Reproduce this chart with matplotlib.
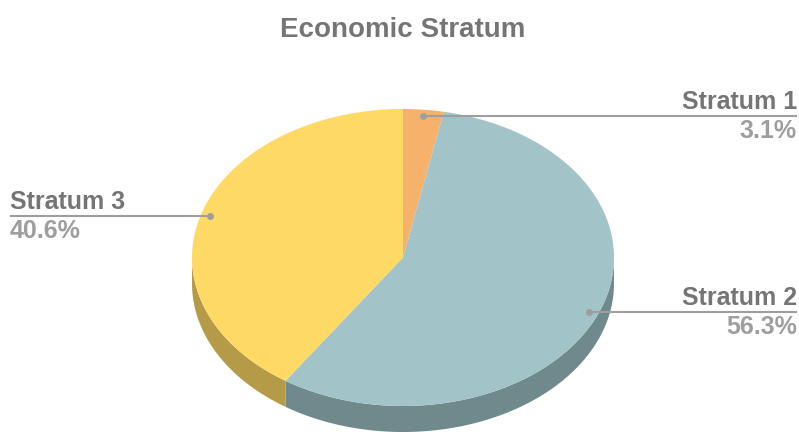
import numpy as np
import matplotlib.pyplot as plt
from matplotlib.patches import Polygon

plt.rcParams['font.family'] = ['Liberation Sans', 'DejaVu Sans']

# data
labels = ['Stratum 1', 'Stratum 2', 'Stratum 3']
shares = [3.1, 56.3, 40.6]
top_colors = ['#F6B26B', '#A2C4C9', '#FFD966']
side_colors = ['#B7854F', '#6F898C', '#B59A48']

# pie geometry (pixels)
cx, cy = 403, 258.5
rx, ry = 211, 148.5
depth = 26

fig = plt.figure(figsize=(7.99, 4.35), dpi=100)
ax = fig.add_axes([0, 0, 1, 1])
ax.set_xlim(0, 799)
ax.set_ylim(435, 0)
ax.axis('off')


def pt(theta, r=1.0, dy=0.0):
    # theta in degrees clockwise from 12 o'clock
    t = np.radians(theta)
    return cx + rx * r * np.sin(t), cy - ry * r * np.cos(t) + dy


fracs = np.array(shares) / sum(shares)
edges = np.concatenate([[0], np.cumsum(fracs) * 360])

# sides (only the front half 90..270 is visible)
for i in range(len(shares)):
    a0 = max(edges[i], 90)
    a1 = min(edges[i + 1], 270)
    if a1 <= a0:
        continue
    th = np.linspace(a0, a1, 100)
    xs, ys = pt(th)
    xs2, ys2 = pt(th[::-1], dy=depth)
    poly = np.column_stack([np.concatenate([xs, xs2]), np.concatenate([ys, ys2])])
    ax.add_patch(Polygon(poly, closed=True, fc=side_colors[i], ec='none'))

# top face
for i in range(len(shares)):
    th = np.linspace(edges[i], edges[i + 1], 200)
    xs, ys = pt(th)
    poly = np.column_stack([np.concatenate([[cx], xs]), np.concatenate([[cy], ys])])
    ax.add_patch(Polygon(poly, closed=True, fc=top_colors[i], ec='none'))

# labels
name_col = '#757575'
pct_col = '#9E9E9E'
line_col = '#9E9E9E'
for i in range(len(shares)):
    mid = (edges[i] + edges[i + 1]) / 2
    dx, dy = pt(mid, r=0.955)
    if np.sin(np.radians(mid)) >= 0:
        xe, ha = 797, 'right'
    else:
        xe, ha = 10, 'left'
    ax.plot([dx, xe], [dy, dy], color=line_col, lw=1.5, solid_capstyle='butt')
    ax.plot(dx, dy, 'o', color=line_col, ms=5, mec='none')
    ax.text(xe, dy - 3, labels[i], ha=ha, va='bottom', fontsize=18,
            fontweight='bold', color=name_col)
    ax.text(xe, dy + 2, '%.1f%%' % shares[i], ha=ha, va='top',
            fontsize=18, fontweight='bold', color=pct_col)

ax.text(403, 30, 'Economic Stratum', ha='center', va='center', fontsize=20,
        fontweight='bold', color=name_col)

fig.savefig('out.png', dpi=100)
